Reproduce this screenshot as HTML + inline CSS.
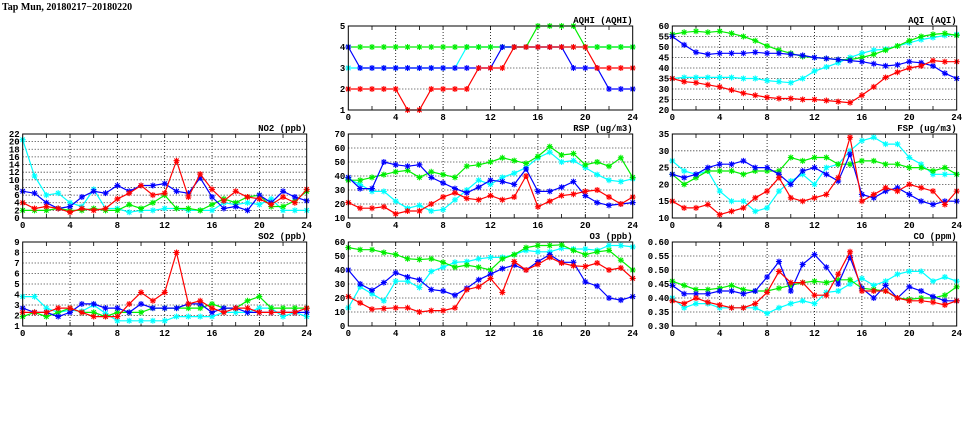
<!DOCTYPE html>
<html><head><meta charset="utf-8"><style>
body{margin:0;background:#fff;}
svg{display:block;font-family:"Liberation Mono","DejaVu Sans Mono",monospace;font-weight:bold;}
</style></head><body>
<svg id="chart" width="975" height="447" viewBox="0 0 975 447" xmlns="http://www.w3.org/2000/svg">
<text x="2" y="10" font-size="10" font-family="Liberation Serif, serif">Tap Mun, 20180217−20180220</text>
</svg>
<script>
const hours=[0,1,2,3,4,5,6,7,8,9,10,11,12,13,14,15,16,17,18,19,20,21,22,23,24];
const xTickLabels=["0","4","8","12","16","20","24"];
const seriesColors=["#00ffff","#00ee00","#0000ff","#ff0000"];

const aqhiCyan=[3,3,3,3,3,3,3,3,3,3,4,4,4,4,4,4,4,4,4,4,4,4,4,4,4];
const aqhiGreen=[4,4,4,4,4,4,4,4,4,4,4,4,4,4,4,4,5,5,5,5,4,4,4,4,4];
const aqhiBlue=[4,3,3,3,3,3,3,3,3,3,3,3,3,4,4,4,4,4,4,3,3,3,2,2,2];
const aqhiRed=[2,2,2,2,2,1,1,2,2,2,2,3,3,3,4,4,4,4,4,4,4,3,3,3,3];
const aqhiTicks=[1,2,3,4,5];

const aqiCyan=[35,35.5,35.5,35.5,35.5,35.5,35,35,34,33.5,33,35,38.5,40.5,42.5,45,47,48.5,49,50.5,52,53.5,54.5,55.5,56];
const aqiGreen=[56,57,57.5,57,57.5,56.5,55,53,50.5,48.5,47,45.5,45,44.5,44,44,45,46.5,48.5,50.5,53,55,56,56.5,55.5];
const aqiBlue=[55,51,47.5,46.5,47,47,47,47.5,47,47,46.5,46,45,44.5,44,43.5,43,42,41,41.5,43,42.5,41,37.5,35];
const aqiRed=[35,33.5,33,32,31,29.5,28,27,26,25.5,25.5,25,25,24.5,24,23.5,27,31,35.5,38,40,41,43.5,43,43];
const aqiTicks=[20,25,30,35,40,45,50,55,60];

const no2Cyan=[20.5,11,6,6.5,4,3,7.5,2.5,2.5,1.5,2,2,2.5,2.5,2,2,2,4,3.5,4,3.5,5,2,2,2];
const no2Green=[2,2,2,2.5,2,2,2.5,2,2,3.5,2.5,4,6,2.5,2.5,2,3.5,5,4,5.5,6,3,3,4.5,7];
const no2Blue=[7,6.5,4,2.5,3,5.5,7,6.5,8.5,7,8.5,8.5,9,7,6.5,10.5,5.5,2.5,3,2,6,4,7,5.5,4.5];
const no2Red=[4,2.5,3,2.5,1.5,2.5,2,2.5,5,6.5,8.5,6,6.5,15,5.5,11.5,7.5,4.5,7,5.5,5,3.5,5.5,4,7.5];
const no2Ticks=[0,2,4,6,8,10,12,14,16,18,20,22];

const rspCyan=[38,34,29,29,22,17,19,15,16,23,30,37,34,39,42,46,53,57,50,51,46,41,37,36,38];
const rspGreen=[37,37,39,41,43,44,39,43,41,39,47,48,50,53,51,49,54,61,55,56,48,50,47,53,39];
const rspBlue=[39,31,31,50,48,47,48,39,35,31,28,32,37,36,34,45,29,29,32,36,26,21,19,20,21];
const rspRed=[21,17,17,18,13,15,15,20,25,28,24,23,26,23,25,40,18,22,26,27,29,30,25,20,25];
const rspTicks=[10,20,30,40,50,60,70];

const fspCyan=[27,24,23,24,18,15,15,12,13,18,21,23,20,25,26,30,33,34,32,32,28,26,23,23,23];
const fspGreen=[23,20,22,24,24,24,23,24,24,24,28,27,28,28,26,26,27,27,26,26,25,25,24,25,23];
const fspBlue=[23,22,23,25,26,26,27,25,25,23,20,24,25,23,21,29,17,16,18,19,17,15,14,15,15];
const fspRed=[15,13,13,14,11,12,13,16,18,22,16,15,16,17,22,34,15,17,19,18,20,19,18,14,18];
const fspTicks=[10,15,20,25,30,35];

const so2Cyan=[3.8,3.8,2.7,2.3,2.5,2.4,3,2.2,1.5,1.5,1.5,1.5,1.5,1.9,1.9,1.9,1.9,2.3,2.3,2.3,2.7,2.7,1.9,2.3,1.9];
const so2Green=[1.9,2.3,1.9,2.3,2.7,2.3,2.3,1.9,2.3,2.3,2.3,2.7,2.7,2.7,2.7,2.7,3.1,2.7,2.7,3.4,3.8,2.7,2.7,2.7,2.7];
const so2Blue=[2.7,2.3,2.3,1.9,2.3,3.1,3.1,2.7,2.7,2.3,3.1,2.7,2.7,2.7,3.1,3.1,2.3,2.7,2.7,2.3,2.3,2.3,2.3,2.3,2.3];
const so2Red=[2.3,2.3,2.3,2.7,2.7,2.3,1.9,1.9,1.9,3.1,4.2,3.4,4.2,8,3.1,3.4,2.7,2.3,2.7,2.7,2.3,2.3,2.3,2.3,2.7];
const so2Ticks=[1,2,3,4,5,6,7,8,9];

const o3Cyan=[13,28,23,18,32,32,27.5,39,42,45.5,46,48,49,49,51,54,53,53,55.5,55,55,54,57.5,57.5,56.5];
const o3Green=[56,54.5,54.5,52.5,51,48,47.5,48,45.5,42,43.5,42,40,48,51,56,57.5,57.5,58,54,51,53,54,47,40];
const o3Blue=[40,30,25.5,31,38,35,33,26,25,22,27,33,37,41,43.5,40,46,51,45.5,45.5,31.5,28.5,20,18.5,21];
const o3Red=[21,16.5,12,12.5,13,13,10,11,11,13,26,28,34,24,46,40,44,49,45,43,42.5,45,40,41.5,34];
const o3Ticks=[0,10,20,30,40,50,60];

const coCyan=[.40,.365,.38,.38,.365,.365,.365,.365,.345,.365,.38,.39,.38,.42,.425,.45,.47,.445,.46,.485,.495,.495,.46,.475,.46];
const coGreen=[.46,.445,.43,.43,.435,.445,.43,.425,.425,.435,.445,.455,.46,.455,.465,.465,.435,.43,.425,.40,.395,.40,.40,.41,.44];
const coBlue=[.445,.415,.415,.415,.425,.425,.415,.425,.475,.53,.425,.52,.555,.51,.45,.545,.435,.40,.445,.40,.44,.425,.405,.39,.39];
const coRed=[.39,.38,.40,.385,.375,.365,.365,.38,.42,.495,.455,.455,.41,.41,.485,.565,.425,.425,.425,.40,.39,.39,.385,.375,.39];
const coTicks=["0.30","0.35","0.40","0.45","0.50","0.55","0.60"];

const panels=[
 {name:"aqhi",title:"AQHI (AQHI)",col:1,row:0,ticks:aqhiTicks,series:[aqhiCyan,aqhiGreen,aqhiBlue,aqhiRed]},
 {name:"aqi",title:"AQI (AQI)",col:2,row:0,ticks:aqiTicks,series:[aqiCyan,aqiGreen,aqiBlue,aqiRed]},
 {name:"no2",title:"NO2 (ppb)",col:0,row:1,ticks:no2Ticks,series:[no2Cyan,no2Green,no2Blue,no2Red]},
 {name:"rsp",title:"RSP (ug/m3)",col:1,row:1,ticks:rspTicks,series:[rspCyan,rspGreen,rspBlue,rspRed]},
 {name:"fsp",title:"FSP (ug/m3)",col:2,row:1,ticks:fspTicks,series:[fspCyan,fspGreen,fspBlue,fspRed]},
 {name:"so2",title:"SO2 (ppb)",col:0,row:2,ticks:so2Ticks,series:[so2Cyan,so2Green,so2Blue,so2Red]},
 {name:"o3",title:"O3 (ppb)",col:1,row:2,ticks:o3Ticks,series:[o3Cyan,o3Green,o3Blue,o3Red]},
 {name:"co",title:"CO (ppm)",col:2,row:2,ticks:coTicks,series:[coCyan,coGreen,coBlue,coRed]}
];
const colX=[[22.7,306.7],[348.3,632.7],[672.3,956.7]];
const rowY=[[26,110],[134,218],[242,326]];
const seriesNames=["cyan","green","blue","red"];
const NS="http://www.w3.org/2000/svg";
const svg=document.getElementById("chart");
function mk(tag,attrs,parent){const e=document.createElementNS(NS,tag);for(const k in attrs)e.setAttribute(k,attrs[k]);(parent||svg).appendChild(e);return e;}

panels.forEach(p=>{
 const [x0,x1]=colX[p.col],[y0,y1]=rowY[p.row];
 const tv=p.ticks.map(Number);const ymin=tv[0],ymax=tv[tv.length-1];
 const sx=v=>x0+(v-0)/24*(x1-x0);
 const sy=v=>y1-(v-ymin)/(ymax-ymin)*(y1-y0);
 const g=mk("g",{});
 
 
 // grid
 xTickLabels.forEach(l=>{const v=+l;if(v>0&&v<24){const ln=mk("line",{x1:sx(v),x2:sx(v),y1:y0,y2:y1,stroke:"#000","stroke-width":0.8,"stroke-dasharray":"1,2"},g);
  }});
 tv.forEach((v,i)=>{if(i>0&&i<tv.length-1){const ln=mk("line",{x1:x0,x2:x1,y1:sy(v),y2:sy(v),stroke:"#000","stroke-width":0.8,"stroke-dasharray":"1,2"},g);
  }});
 // minor ticks
 for(let h=2;h<24;h+=2){mk("line",{x1:sx(h),x2:sx(h),y1:y0,y2:y0+4,stroke:"#000","stroke-width":0.8},g);mk("line",{x1:sx(h),x2:sx(h),y1:y1,y2:y1-4,stroke:"#000","stroke-width":0.8},g);}
 // series
 p.series.forEach((arr,si)=>{
  const c=seriesColors[si];
  const pts=hours.map((h,i)=>sx(h).toFixed(1)+","+sy(arr[i]).toFixed(1)).join(" ");
  const pl=mk("polyline",{points:pts,fill:"none",stroke:c,"stroke-width":1.2},g);
  
  
  let d="";hours.forEach((h,i)=>{const X=sx(h),Y=sy(arr[i]),r=3;d+=`M${X-r},${Y}h${2*r}M${X},${Y-r}v${2*r}M${X-2.2},${Y-2.2}l4.4,4.4M${X-2.2},${Y+2.2}l4.4,-4.4`;});
  const mp=mk("path",{d:d,stroke:c,"stroke-width":1.1,fill:"none"},g);
  
  
 });
 // frame
 const fr=mk("rect",{x:x0,y:y0,width:x1-x0,height:y1-y0,fill:"none",stroke:"#000","stroke-width":1},g);
 
 // labels
 xTickLabels.forEach(l=>{const t=mk("text",{x:sx(+l),y:y1+10,"font-size":9,"text-anchor":"middle"},g);t.textContent=l;
  });
 p.ticks.forEach(l=>{const t=mk("text",{x:x0-3,y:sy(+l)+3,"font-size":9,"text-anchor":"end"},g);t.textContent=l;
  });
 const tt=mk("text",{x:x1,y:y0-3,"font-size":9,"text-anchor":"end"},g);tt.textContent=p.title;
 
});
</script>
</body></html>
